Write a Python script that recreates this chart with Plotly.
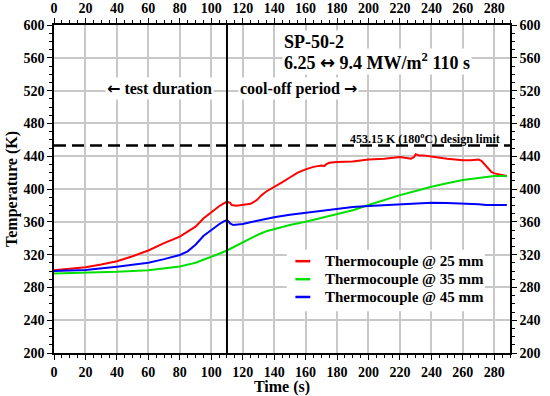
import plotly.graph_objects as go

# ---- data ----
t_25 = [0, 10, 20, 30, 40, 50, 60, 70, 80, 85, 90, 95, 100, 105, 108, 110, 112, 113, 116, 120,
        125, 129, 132, 135, 138, 140, 145, 150, 155, 160, 165, 170, 172, 173, 175, 180, 190, 200,
        210, 220, 225, 227, 229, 230, 232, 235, 240, 245, 250, 255, 260, 265, 270, 272, 275, 278,
        280, 283, 286, 288]
T_25 = [301, 302.5, 304.5, 308, 312, 318, 325, 334, 342, 348, 354, 364, 372, 379, 382.5, 384.5,
        383, 380.5, 379.5, 380.5, 382, 386.5, 392.5, 397, 400, 403, 408, 414, 420, 424, 427, 428.5,
        428, 430, 432, 433, 433.5, 436, 437, 439, 438, 437, 439, 442.5, 441, 441, 439.5, 438, 437,
        436, 435, 435, 436, 434, 428, 421, 419, 418, 417, 416]

t_35 = [0, 20, 40, 60, 70, 80, 90, 95, 100, 105, 110, 115, 120, 125, 130, 135, 140, 150, 160,
        170, 180, 190, 200, 210, 220, 230, 240, 250, 260, 270, 280, 285, 288]
T_35 = [297, 298, 299, 301, 303, 305.5, 310, 313.4, 317, 321, 325, 330, 335.5, 340, 344.5, 348.5,
        351, 356, 360, 364.5, 369, 374, 380.5, 386.5, 392.5, 397.5, 402.8, 407, 411, 413.5, 415.8,
        416, 415.5]

t_45 = [0, 20, 40, 60, 70, 80, 85, 90, 95, 100, 105, 108, 110, 111, 112, 114, 117, 120, 130, 140,
        150, 160, 170, 180, 190, 200, 210, 220, 230, 240, 250, 260, 270, 275, 280, 288]
T_45 = [300, 301.2, 305.3, 310, 314.5, 319.5, 324, 332, 342.7, 350, 357, 360.5, 362, 360.5, 358,
        356, 356.5, 357.3, 361.5, 365.5, 368.5, 371, 373.5, 376, 378, 379.3, 380.5, 381.7, 383,
        383.3, 383, 382.5, 381.5, 380.5, 380.5, 380.5]

series_names = ["Thermocouple @ 25 mm", "Thermocouple @ 35 mm", "Thermocouple @ 45 mm"]
series_colors = ["#ff0000", "#00e000", "#0000ff"]

test_end = 110
design_limit = 453.15
x_range = [0, 290]
y_range = [200, 600]

FONT = "Liberation Serif, Times New Roman, serif"
ARROW = '<span style="font-family:DejaVu Sans">{}</span>'

fig = go.Figure()
for t, T, name, col in zip([t_25, t_35, t_45], [T_25, T_35, T_45], series_names, series_colors):
    fig.add_trace(go.Scatter(x=t, y=T, mode="lines", name=name, showlegend=False,
                             line=dict(color=col, width=2)))

axis_common = dict(
    showline=True, linecolor="black", linewidth=1.5,
    ticks="outside", ticklen=5, tickwidth=1.2, tickcolor="black",
    tickfont=dict(family=FONT, size=14, color="black", weight="bold"),
    zeroline=False, automargin=False,
)

fig.update_layout(
    width=550, height=396,
    margin=dict(l=54, r=40, t=25, b=43),
    paper_bgcolor="white", plot_bgcolor="white",
    font=dict(family=FONT, color="black", weight="bold"),
    showlegend=False,
    xaxis=dict(range=x_range, dtick=20, tick0=0, showgrid=True, gridcolor="#c8c8c8", gridwidth=1.5,
               minor=dict(dtick=5, ticks="outside", ticklen=3, tickcolor="black", showgrid=False),
               title=dict(text="Time (s)", font=dict(family=FONT, size=16, weight="bold"), standoff=2),
               **axis_common),
    yaxis=dict(range=y_range, dtick=40, tick0=200, showgrid=True, gridcolor="#c8c8c8", gridwidth=1.5,
               minor=dict(dtick=10, ticks="outside", ticklen=3, tickcolor="black", showgrid=False),
               title=dict(text="Temperature (K)", font=dict(family=FONT, size=16, weight="bold"), standoff=2),
               **axis_common),
    xaxis2=dict(range=x_range, dtick=20, tick0=0, overlaying="x", side="top", matches="x",
                showgrid=False,
                minor=dict(dtick=5, ticks="outside", ticklen=3, tickcolor="black", showgrid=False),
                **axis_common),
    yaxis2=dict(range=y_range, dtick=40, tick0=200, overlaying="y", side="right", matches="y",
                showgrid=False,
                minor=dict(dtick=10, ticks="outside", ticklen=3, tickcolor="black", showgrid=False),
                **axis_common),
)

# invisible trace so the secondary axes are drawn
fig.add_trace(go.Scatter(x=[0], y=[200], xaxis="x2", yaxis="y2", mode="markers",
                         marker=dict(opacity=0), showlegend=False, hoverinfo="skip"))

# end of test line and design limit
fig.add_shape(type="line", xref="x", yref="paper", x0=test_end, x1=test_end, y0=0, y1=1,
              line=dict(color="black", width=2))
fig.add_shape(type="line", xref="paper", yref="y", x0=0, x1=1, y0=design_limit, y1=design_limit,
              line=dict(color="black", width=2.5, dash="12px,6px"))

ann_font = dict(family=FONT, color="black", weight="bold")
fig.add_annotation(x=145, y=579, xref="x", yref="y", xanchor="left", yanchor="middle",
                   text="SP-50-2", showarrow=False, bgcolor="white",
                   font=dict(size=18, **ann_font))
fig.add_annotation(x=145, y=555, xref="x", yref="y", xanchor="left", yanchor="middle",
                   text="6.25 " + ARROW.format("\u2194") + " 9.4 MW/m<sup>2</sup> 110 s",
                   showarrow=False, bgcolor="white",
                   font=dict(size=18, **ann_font))
fig.add_annotation(x=67, y=522, xref="x", yref="y", xanchor="center", yanchor="middle",
                   text=ARROW.format("\u2190") + " test duration", showarrow=False, bgcolor="white",
                   font=dict(size=16, **ann_font))
fig.add_annotation(x=155.5, y=522, xref="x", yref="y", xanchor="center", yanchor="middle",
                   text="cool-off period " + ARROW.format("\u2192"), showarrow=False, bgcolor="white",
                   font=dict(size=16, **ann_font))
fig.add_annotation(x=285, y=461, xref="x", yref="y", xanchor="right", yanchor="middle",
                   text="453.15 K (180<sup>o</sup>C) design limit", showarrow=False,
                   font=dict(size=12, **ann_font))

# legend (drawn by hand to match the compact row spacing of the reference)
fig.add_shape(type="rect", xref="x", yref="y", x0=148, x1=274, y0=251, y1=326,
              fillcolor="white", line=dict(width=0), layer="between")
legend_rows_y = [312, 290, 268.3]
for name, col, yy in zip(series_names, series_colors, legend_rows_y):
    fig.add_shape(type="line", xref="x", yref="y", x0=153.5, x1=163, y0=yy, y1=yy,
                  line=dict(color=col, width=2.5))
    fig.add_annotation(x=171, y=yy, xref="x", yref="y", xanchor="left", yanchor="middle",
                       text=name, showarrow=False, font=dict(size=15, **ann_font))

fig.write_html("out.html", config={"displayModeBar": False},
               post_script="document.body.style.margin='0';")
